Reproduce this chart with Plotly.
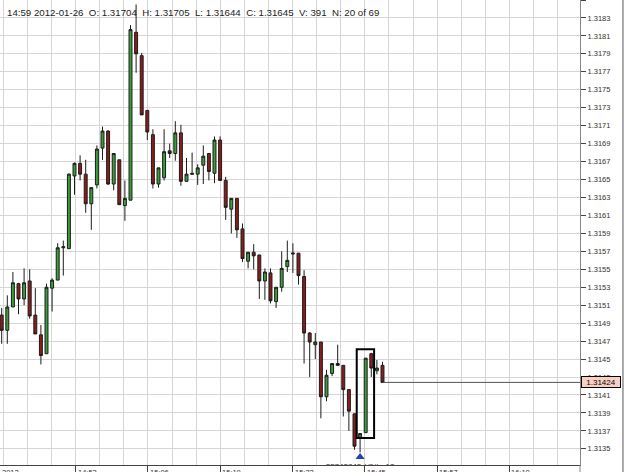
import plotly.graph_objects as go

# ---------------- data ----------------
bar_index = list(range(69))
opens = [1.31499, 1.31482, 1.31508, 1.31534, 1.31517, 1.31537, 1.31499, 1.31477, 1.31456, 1.31529,
         1.31538, 1.31574, 1.31573, 1.31654, 1.31668, 1.31656, 1.31623, 1.31644, 1.31685, 1.31704,
         1.31645, 1.31672, 1.31621, 1.31627, 1.31814, 1.31788, 1.31727, 1.31700, 1.31645, 1.31652,
         1.31682, 1.31679, 1.31702, 1.31648, 1.31657, 1.31656, 1.31666, 1.31679, 1.31657, 1.31694,
         1.31649, 1.31617, 1.31629, 1.31595, 1.31559, 1.31569, 1.31566, 1.31537, 1.31546, 1.31514,
         1.31530, 1.31553, 1.31567, 1.31568, 1.31542, 1.31479, 1.31466, 1.31469, 1.31408, 1.31434,
         1.31445, 1.31443, 1.31416, 1.31389, 1.31363, 1.31368, 1.31456, 1.31437, 1.31443]
highs = [1.31507, 1.31521, 1.31547, 1.31535, 1.31551, 1.31550, 1.31529, 1.31488, 1.31534, 1.31540,
         1.31579, 1.31582, 1.31657, 1.31669, 1.31677, 1.31672, 1.31641, 1.31688, 1.31709, 1.31705,
         1.31679, 1.31672, 1.31649, 1.31822, 1.31845, 1.31791, 1.31727, 1.31706, 1.31663, 1.31706,
         1.31690, 1.31715, 1.31711, 1.31674, 1.31680, 1.31667, 1.31688, 1.31679, 1.31698, 1.31698,
         1.31653, 1.31629, 1.31629, 1.31601, 1.31569, 1.31578, 1.31566, 1.31551, 1.31551, 1.31530,
         1.31570, 1.31582, 1.31579, 1.31568, 1.31549, 1.31480, 1.31479, 1.31469, 1.31438, 1.31445,
         1.31466, 1.31443, 1.31416, 1.31389, 1.31367, 1.31451, 1.31457, 1.31449, 1.31447]
lows = [1.31467, 1.31467, 1.31508, 1.31500, 1.31510, 1.31495, 1.31478, 1.31444, 1.31456, 1.31503,
        1.31538, 1.31543, 1.31573, 1.31633, 1.31649, 1.31613, 1.31594, 1.31640, 1.31672, 1.31644,
        1.31638, 1.31622, 1.31604, 1.31627, 1.31769, 1.31722, 1.31694, 1.31640, 1.31641, 1.31649,
        1.31674, 1.31671, 1.31643, 1.31648, 1.31656, 1.31644, 1.31645, 1.31649, 1.31646, 1.31649,
        1.31605, 1.31590, 1.31585, 1.31558, 1.31551, 1.31550, 1.31517, 1.31516, 1.31512, 1.31507,
        1.31525, 1.31547, 1.31546, 1.31533, 1.31445, 1.31430, 1.31450, 1.31384, 1.31403, 1.31431,
        1.31443, 1.31386, 1.31370, 1.31349, 1.31346, 1.31368, 1.31430, 1.31433, 1.31424]
closes = [1.31482, 1.31508, 1.31535, 1.31517, 1.31535, 1.31498, 1.31478, 1.31454, 1.31530, 1.31538,
          1.31574, 1.31575, 1.31656, 1.31668, 1.31656, 1.31623, 1.31641, 1.31684, 1.31704, 1.31645,
          1.31679, 1.31622, 1.31629, 1.31817, 1.31790, 1.31722, 1.31703, 1.31645, 1.31663, 1.31681,
          1.31679, 1.31702, 1.31648, 1.31656, 1.31656, 1.31663, 1.31676, 1.31659, 1.31694, 1.31649,
          1.31619, 1.31629, 1.31594, 1.31562, 1.31569, 1.31565, 1.31537, 1.31547, 1.31515, 1.31530,
          1.31551, 1.31560, 1.31568, 1.31543, 1.31479, 1.31469, 1.31469, 1.31408, 1.31432, 1.31445,
          1.31443, 1.31416, 1.31392, 1.31353, 1.31367, 1.31451, 1.31440, 1.31440, 1.31424]

y_tick_labels = ["1.3135", "1.3137", "1.3139", "1.3141", "1.3143", "1.3145", "1.3147", "1.3149",
                 "1.3151", "1.3153", "1.3155", "1.3157", "1.3159", "1.3161", "1.3163", "1.3165",
                 "1.3167", "1.3169", "1.3171", "1.3173", "1.3175", "1.3177", "1.3179", "1.3181",
                 "1.3183", "1.3185"]
x_tick_labels = ["2012", "14:53", "15:06", "15:19", "15:32", "15:45", "15:57", "16:10", "2012-01-26"]

last_price = 1.31424
last_price_label = "1.31424"
header_text = ("14:59 2012-01-26\u00a0\u00a0O: 1.31704\u00a0\u00a0H: 1.31705\u00a0\u00a0L: 1.31644"
               "\u00a0\u00a0C: 1.31645\u00a0\u00a0V: 391\u00a0\u00a0N: 20 of 69")

signal_index = [64]
signal_price = [1.31341]
signal_text = ["22743843 (@th=12"]

box_bars = [63.4, 66.5]
box_prices = [1.31362, 1.31461]

# ---------------- layout helpers ----------------
x_min, x_max = -0.304, 103.27
grid0, grid_step = 0.286, 4.304
label_pos = [grid0 + 3 * grid_step * k for k in range(len(x_tick_labels))]

GRID = "#d6d6d6"
AX = "#444444"
FONT = "Liberation Sans, Arial, sans-serif"

fig = go.Figure()
fig.add_trace(go.Candlestick(
    x=bar_index, open=opens, high=highs, low=lows, close=closes,
    increasing=dict(fillcolor="#3a9e3a", line=dict(color="#1c1c1c", width=1)),
    decreasing=dict(fillcolor="#8c1c1c", line=dict(color="#1c1c1c", width=1)),
    whiskerwidth=0, showlegend=False, hoverinfo="skip",
))

fig.add_trace(go.Scatter(
    x=signal_index, y=signal_price, mode="markers+text",
    marker=dict(symbol="triangle-up", size=8, color="#1f3fbf"),
    text=signal_text, textposition="bottom center",
    textfont=dict(size=8, color="#333333", family=FONT),
    cliponaxis=True, showlegend=False, hoverinfo="skip",
))

# last price horizontal line
fig.add_shape(type="line", xref="x", yref="y", x0=bar_index[-1], x1=x_max,
              y0=last_price, y1=last_price, line=dict(color="#555555", width=1))
# selection box
fig.add_shape(type="rect", xref="x", yref="y", x0=box_bars[0], x1=box_bars[1],
              y0=box_prices[0], y1=box_prices[1], line=dict(color="#000000", width=2))
# right outer border
fig.add_shape(type="line", xref="paper", yref="paper", x0=1.0741, x1=1.0741, y0=-0.02, y1=1,
              line=dict(color="#555555", width=1))
fig.add_shape(type="line", xref="paper", yref="paper", x0=1, x1=1, y0=-0.02, y1=0,
              line=dict(color="#888888", width=1))

annotations = []
for i, (lab, pos) in enumerate(zip(x_tick_labels, label_pos)):
    if i == 0:
        annotations.append(dict(x=0, xref="paper", y=0, yref="paper", text=lab, showarrow=False,
                                xanchor="left", yanchor="top", yshift=-1,
                                font=dict(size=7.5, color="#333333", family=FONT)))
    else:
        annotations.append(dict(x=pos, xref="x", y=0, yref="paper", text=lab, showarrow=False,
                                xanchor="left", yanchor="top", xshift=0, yshift=-1,
                                font=dict(size=7.5, color="#333333", family=FONT)))

annotations.append(dict(x=0, xref="paper", y=1, yref="paper", text=header_text, showarrow=False,
                        xanchor="left", yanchor="top", xshift=5, yshift=-5,
                        font=dict(size=9.7, color="#222222", family=FONT)))

annotations.append(dict(x=1, xref="paper", y=last_price, yref="y", text=last_price_label,
                        showarrow=False, xanchor="left", yanchor="middle", xshift=1,
                        bgcolor="#f8cfc4", bordercolor="#000000", borderwidth=1, borderpad=1,
                        width=36, height=8,
                        font=dict(size=8, color="#000000", family=FONT)))

fig.update_layout(
    width=625, height=472,
    margin=dict(l=0, r=45, t=0, b=7),
    paper_bgcolor="white", plot_bgcolor="white",
    boxgap=0.25,
    xaxis=dict(
        range=[x_min, x_max], rangeslider=dict(visible=False),
        tickmode="array", tickvals=label_pos[1:8], showticklabels=False,
        ticks="outside", ticklen=7, tickcolor=AX,
        showgrid=True, gridcolor=GRID, gridwidth=1,
        minor=dict(tick0=grid0, dtick=grid_step, showgrid=True, gridcolor=GRID, ticks=""),
        showline=True, linecolor=AX, linewidth=1, zeroline=False,
    ),
    yaxis=dict(
        side="right", range=[1.31332, 1.31850],
        tickmode="array", tickvals=[float(t) for t in y_tick_labels], ticktext=y_tick_labels,
        ticks="outside", ticklen=5, tickcolor=AX,
        tickfont=dict(size=7.5, color="#333333", family=FONT),
        showgrid=True, gridcolor=GRID, gridwidth=1,
        showline=True, linecolor="#888888", linewidth=1, zeroline=False,
    ),
    annotations=annotations,
    font=dict(family=FONT),
)

fig.write_html("out.html")
